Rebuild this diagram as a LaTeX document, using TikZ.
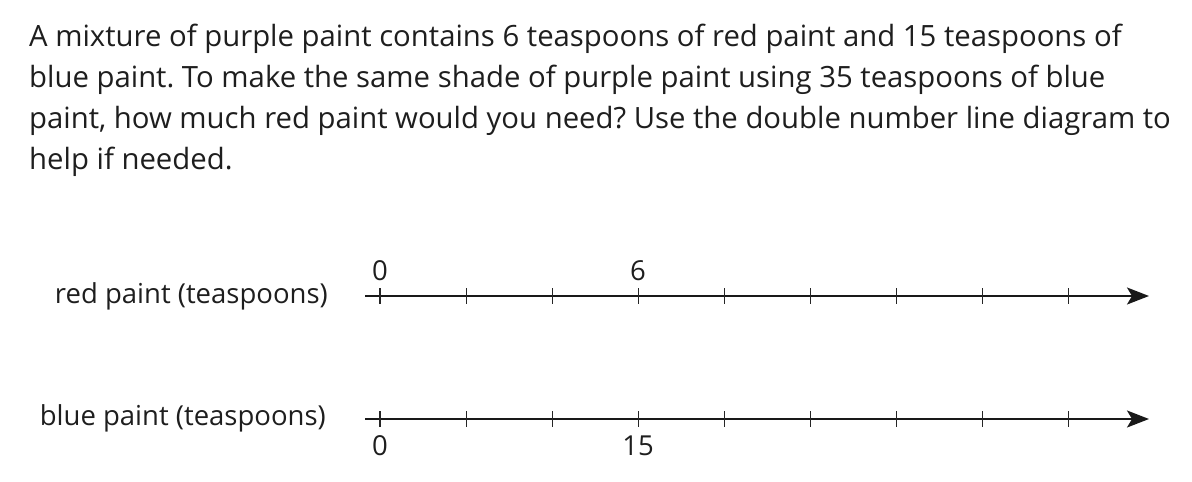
\documentclass[tikz,border=0pt]{standalone}
\usepackage{fontspec}
\setmainfont{Open Sans}
\usetikzlibrary{arrows.meta}
\frenchspacing
\definecolor{txt}{RGB}{30,30,30}
\tikzset{
  para/.style={anchor=base west, inner sep=0pt, text=txt, font=\fontsize{29.3}{35}\selectfont},
  lbl/.style={inner sep=0pt, text=txt, font=\fontsize{27.5}{32}\selectfont},
  nline/.style={line width=2pt, draw=black!90, -{Stealth[length=22pt,width=17pt,inset=5pt]}},
  tick/.style={line width=1.2pt, draw=black!85}
}
\begin{document}
\begin{tikzpicture}[x=1pt,y=-1pt]
\useasboundingbox (0,0) rectangle (1192,482);
\node[para] (l1) at (29,46) {A mixture of purple paint contains 6 teaspoons of red paint and 15 teaspoons of};
\node[para] (l2) at (29,87) {blue paint. To make the same shade of purple paint using 35 teaspoons of blue};
\node[para] (l3) at (29,128) {paint, how much red paint would you need? Use the double number line diagram to};
\node[para] (l4) at (29,169) {help if needed.};

\node[lbl, anchor=base east] (rl) at (328,303) {red paint (teaspoons)};
\node[lbl, anchor=base east] (bl) at (326,425) {blue paint (teaspoons)};

\coordinate (rs) at (365,296);
\coordinate (re) at (1149,296);
\coordinate (bs) at (365,419);
\coordinate (be) at (1149,419);
\draw[nline] (rs) -- (re);
\draw[nline] (bs) -- (be);
\foreach \i in {0,...,8}{
  \draw[tick] ({380+86.1*\i},288) -- ({380+86.1*\i},304);
  \draw[tick] ({380+86.1*\i},411) -- ({380+86.1*\i},427);
}
\node[lbl, anchor=base] (r0) at (380,280) {0};
\node[lbl, anchor=base] (r6) at (638,280) {6};
\node[lbl, anchor=base] (b0) at (380,455) {0};
\node[lbl, anchor=base] (b15) at (638,455) {15};
\end{tikzpicture}
\end{document}
